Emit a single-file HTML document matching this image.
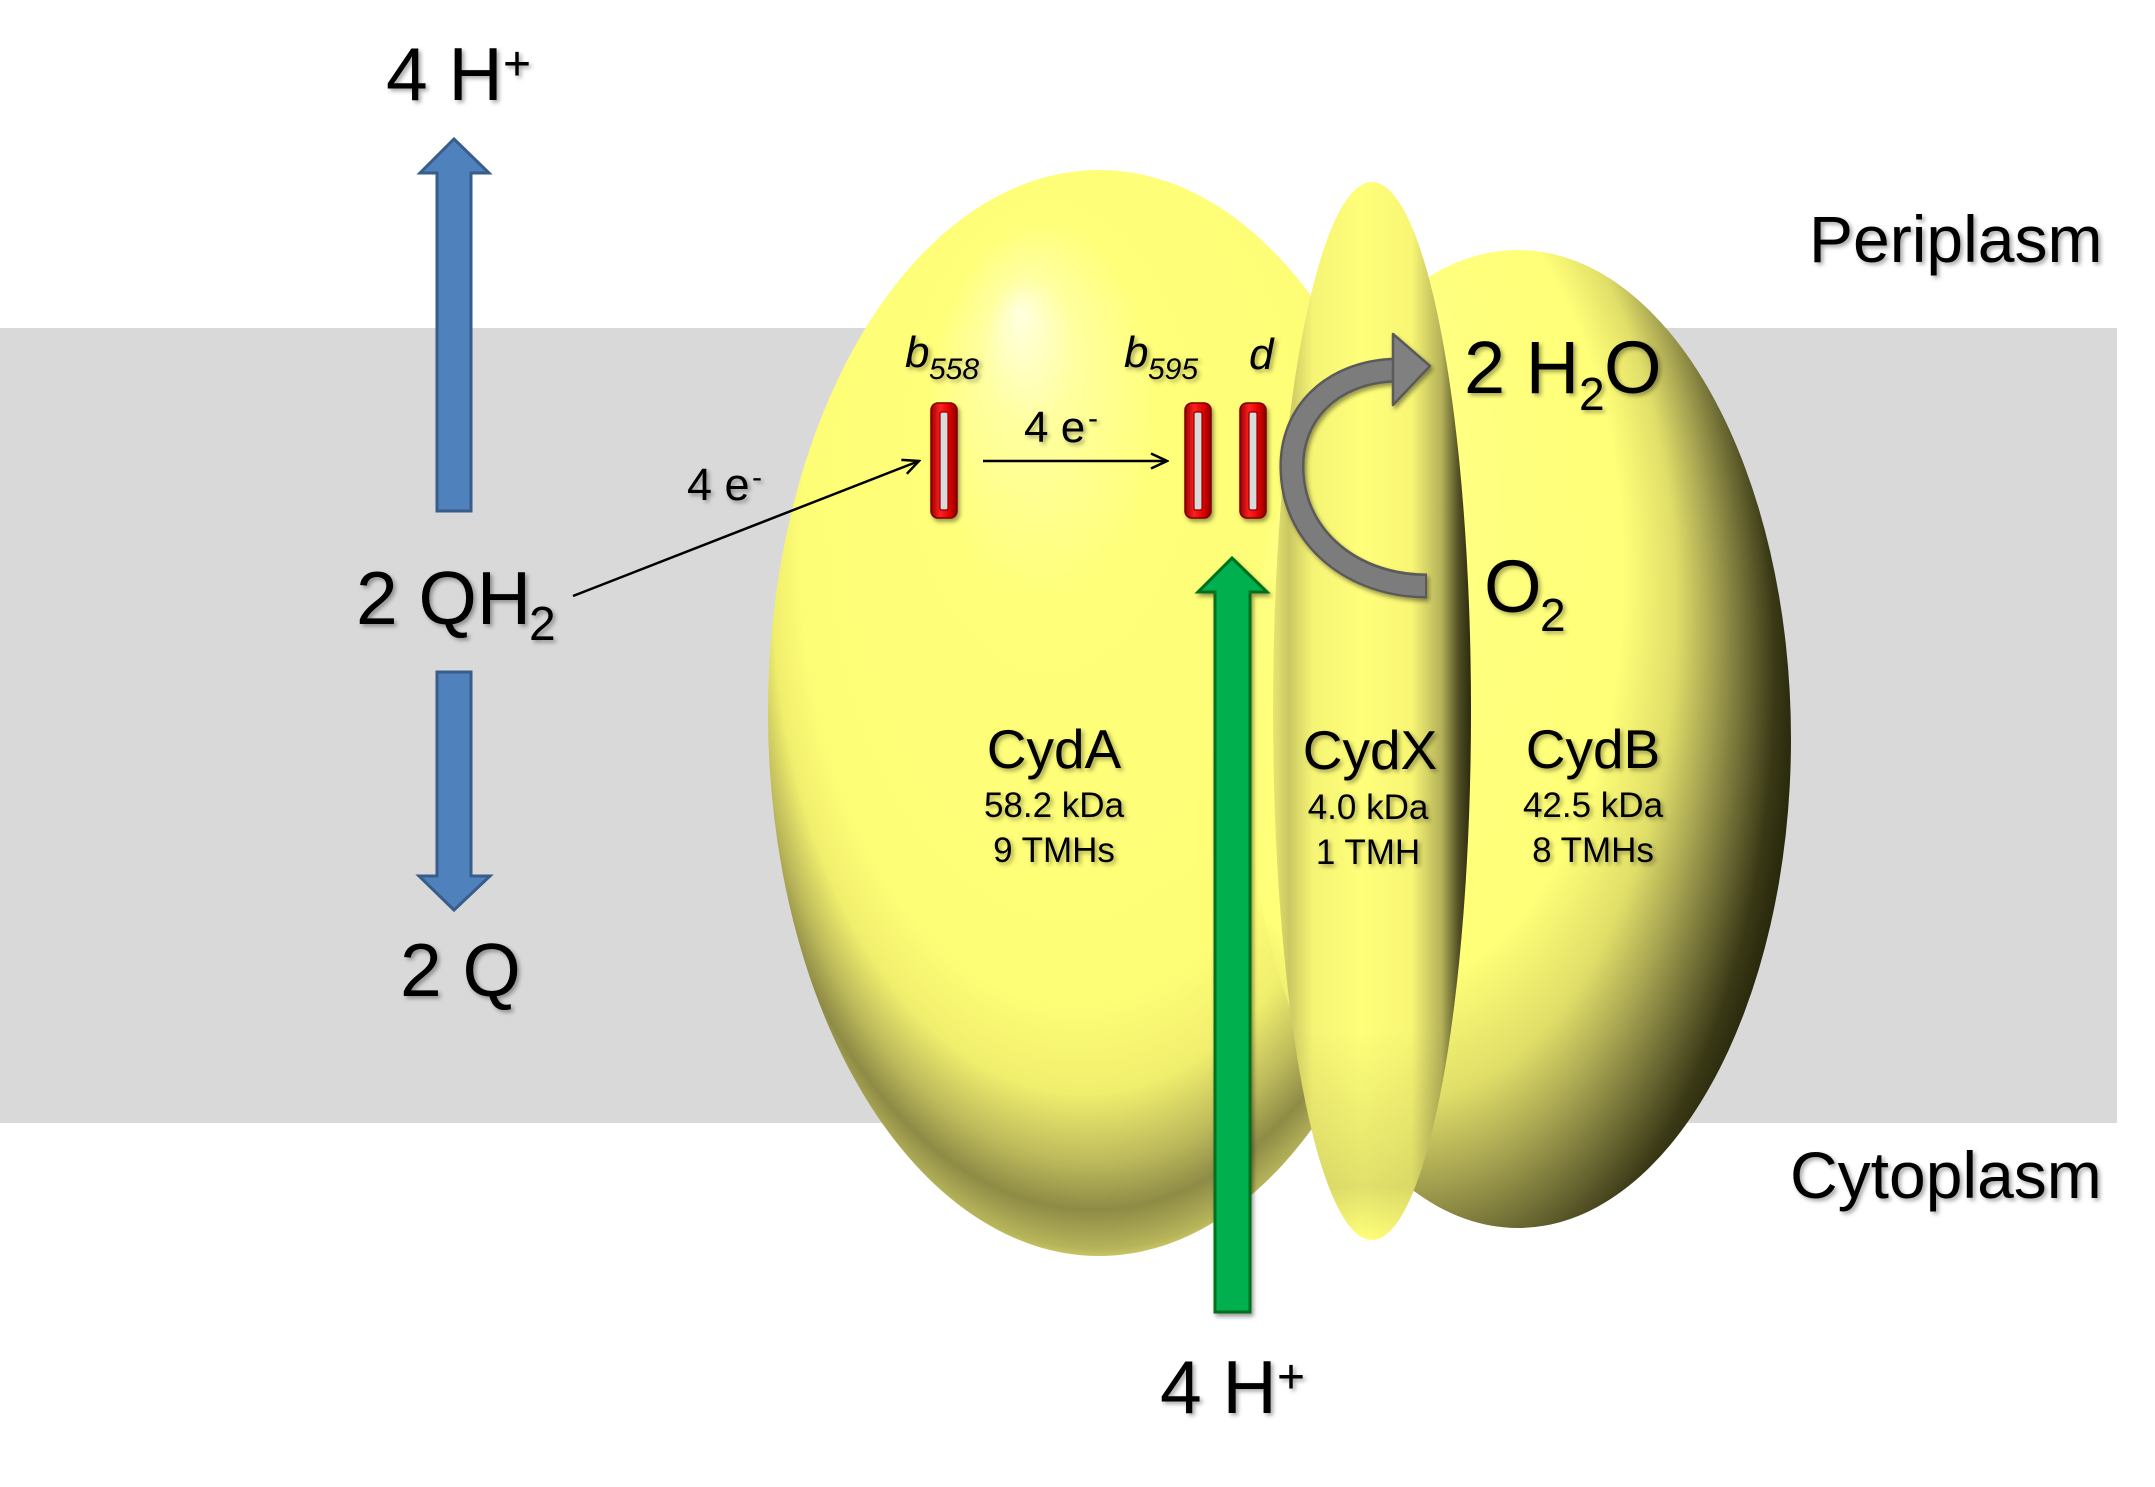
<!DOCTYPE html>
<html>
<head>
<meta charset="utf-8">
<style>
  html,body{margin:0;padding:0;background:#fff;}
  svg{display:block;}
  text{font-family:"Liberation Sans", Arial, sans-serif; fill:#000;}
</style>
</head>
<body>
<svg width="2155" height="1487" viewBox="0 0 2155 1487" xmlns="http://www.w3.org/2000/svg">
  <defs>
    <filter id="ts" x="-10%" y="-20%" width="130%" height="160%">
      <feDropShadow dx="2.5" dy="2.5" stdDeviation="2" flood-color="#000" flood-opacity="0.35"/>
    </filter>
    <filter id="hs" x="-50%" y="-10%" width="200%" height="130%">
      <feDropShadow dx="2" dy="3" stdDeviation="2" flood-color="#000" flood-opacity="0.4"/>
    </filter>
    <radialGradient id="gA" cx="0.5" cy="0.44" r="0.58" fx="0.38" fy="0.13">
      <stop offset="0" stop-color="#FFFFE0"/>
      <stop offset="0.12" stop-color="#FFFFA0"/>
      <stop offset="0.3" stop-color="#FFFF7A"/>
      <stop offset="0.72" stop-color="#FEFD76"/>
      <stop offset="0.81" stop-color="#F0EE6D"/>
      <stop offset="0.88" stop-color="#BDBA5C"/>
      <stop offset="0.93" stop-color="#8E8B46"/>
      <stop offset="0.97" stop-color="#B6B45A"/>
      <stop offset="1" stop-color="#F6F478"/>
    </radialGradient>
    <radialGradient id="gB" cx="0.32" cy="0.45" r="0.7" fx="0.2" fy="0.15">
      <stop offset="0" stop-color="#FFFFD0"/>
      <stop offset="0.15" stop-color="#FFFF84"/>
      <stop offset="0.6" stop-color="#FFFF78"/>
      <stop offset="0.72" stop-color="#E0DE68"/>
      <stop offset="0.8" stop-color="#A8A552"/>
      <stop offset="0.88" stop-color="#6A6832"/>
      <stop offset="0.94" stop-color="#3A3916"/>
      <stop offset="1" stop-color="#222208"/>
    </radialGradient>
    <linearGradient id="gX" x1="0" y1="0" x2="1" y2="0">
      <stop offset="0" stop-color="#E8E670"/>
      <stop offset="0.08" stop-color="#CAC862"/>
      <stop offset="0.2" stop-color="#F6F474"/>
      <stop offset="0.45" stop-color="#FFFF7A"/>
      <stop offset="0.7" stop-color="#F8F674"/>
      <stop offset="0.85" stop-color="#B5B25A"/>
      <stop offset="0.94" stop-color="#4E4C22"/>
      <stop offset="1" stop-color="#2A2A0E"/>
    </linearGradient>
    <linearGradient id="gXv" x1="0" y1="0" x2="0" y2="1">
      <stop offset="0" stop-color="#000" stop-opacity="0"/>
      <stop offset="0.8" stop-color="#000" stop-opacity="0"/>
      <stop offset="0.95" stop-color="#000" stop-opacity="0.12"/>
      <stop offset="1" stop-color="#000" stop-opacity="0"/>
    </linearGradient>
    <linearGradient id="gH" x1="0" y1="0" x2="1" y2="0">
      <stop offset="0" stop-color="#9A0000"/>
      <stop offset="0.35" stop-color="#FF2020"/>
      <stop offset="0.7" stop-color="#E00000"/>
      <stop offset="1" stop-color="#8A0000"/>
    </linearGradient>
    <marker id="ah" viewBox="0 0 20 20" refX="18" refY="10" markerWidth="20" markerHeight="20" markerUnits="userSpaceOnUse" orient="auto">
      <path d="M2,2.5 L18,10 L2,17.5" fill="none" stroke="#000" stroke-width="2.5"/>
    </marker>
  </defs>

  <!-- background -->
  <rect x="0" y="0" width="2155" height="1487" fill="#fff"/>
  <!-- membrane -->
  <rect x="0" y="328" width="2117" height="795" fill="#D9D9D9"/>

  <!-- blue arrows -->
  <polygon points="437,511 437,173 420,173 454,139 489,173 471,173 471,511" fill="#4F81BD" stroke="#385D8A" stroke-width="3"/>
  <polygon points="437,672 437,876 419,876 454,910 490,876 471,876 471,672" fill="#4F81BD" stroke="#385D8A" stroke-width="3"/>

  <!-- proteins -->
  <ellipse cx="1099" cy="713" rx="331" ry="543" fill="url(#gA)"/>
  <ellipse cx="1518" cy="739" rx="273" ry="489" fill="url(#gB)"/>
  <ellipse cx="1372" cy="711" rx="99" ry="529" fill="url(#gX)"/>
  <ellipse cx="1372" cy="711" rx="99" ry="529" fill="url(#gXv)"/>

  <!-- hemes -->
  <g filter="url(#hs)">
    <rect x="931" y="403" width="26" height="115" rx="7" fill="url(#gH)" stroke="#7A0000" stroke-width="1.5"/>
    <rect x="940" y="412" width="8" height="98" rx="2" fill="#DADADA" stroke="#8A0000" stroke-width="1.2"/>
    <rect x="1185" y="403" width="26" height="115" rx="7" fill="url(#gH)" stroke="#7A0000" stroke-width="1.5"/>
    <rect x="1194" y="412" width="8" height="98" rx="2" fill="#DADADA" stroke="#8A0000" stroke-width="1.2"/>
    <rect x="1240" y="403" width="26" height="115" rx="7" fill="url(#gH)" stroke="#7A0000" stroke-width="1.5"/>
    <rect x="1249" y="412" width="8" height="98" rx="2" fill="#DADADA" stroke="#8A0000" stroke-width="1.2"/>
  </g>

  <!-- electron arrows -->
  <line x1="573" y1="596" x2="919" y2="461" stroke="#000" stroke-width="2.5" marker-end="url(#ah)"/>
  <line x1="983" y1="461" x2="1167" y2="461" stroke="#000" stroke-width="2.5" marker-end="url(#ah)"/>

  <!-- gray curved arrow -->
  <g filter="url(#hs)">
    <path d="M 1396 370 C 1330 372, 1290 415, 1292 470 C 1294 540, 1355 586, 1427 586" fill="none" stroke="#5A5A5A" stroke-width="25"/>
    <path d="M 1396 370 C 1330 372, 1290 415, 1292 470 C 1294 540, 1355 586, 1425 586" fill="none" stroke="#7C7C7C" stroke-width="20"/>
    <polygon points="1393,334 1430,366 1393,405" fill="#808080" stroke="#5A5A5A" stroke-width="2.5" stroke-linejoin="round"/>
  </g>

  <!-- green arrow -->
  <g filter="url(#hs)">
    <polygon points="1215,1312 1215,592 1198,592 1232,558 1267,592 1250,592 1250,1312" fill="#00B050" stroke="#00701F" stroke-width="3"/>
  </g>

  <!-- labels -->
  <g filter="url(#ts)">
    <text x="386" y="100" font-size="75">4 H</text>
    <text x="503" y="80" font-size="48">+</text>

    <text x="356" y="624" font-size="75">2 QH</text>
    <text x="529" y="640" font-size="48">2</text>

    <text x="400" y="996" font-size="75">2 Q</text>

    <text x="1160" y="1413" font-size="75">4 H</text>
    <text x="1277" y="1393" font-size="48">+</text>

    <text x="687" y="500" font-size="45">4 e</text>
    <text x="752" y="487" font-size="30">-</text>

    <text x="1024" y="442" font-size="44">4 e</text>
    <text x="1088" y="428" font-size="30">-</text>

    <text x="905" y="367" font-size="44" font-style="italic">b</text>
    <text x="929" y="379" font-size="30" font-style="italic">558</text>
    <text x="1124" y="367" font-size="44" font-style="italic">b</text>
    <text x="1148" y="379" font-size="30" font-style="italic">595</text>
    <text x="1249" y="369" font-size="44" font-style="italic">d</text>

    <text x="1464" y="393" font-size="74">2 H</text>
    <text x="1579" y="410" font-size="46">2</text>
    <text x="1604" y="393" font-size="74">O</text>

    <text x="1484" y="612" font-size="74">O</text>
    <text x="1540" y="631" font-size="46">2</text>

    <text x="1809" y="262" font-size="66">Periplasm</text>
    <text x="1790" y="1198" font-size="66">Cytoplasm</text>

    <text x="1054" y="768" font-size="55" text-anchor="middle">CydA</text>
    <text x="1054" y="817" font-size="35" text-anchor="middle">58.2 kDa</text>
    <text x="1054" y="862" font-size="35" text-anchor="middle">9 TMHs</text>

    <text x="1370" y="769" font-size="55" text-anchor="middle">CydX</text>
    <text x="1368" y="819" font-size="35" text-anchor="middle">4.0 kDa</text>
    <text x="1368" y="864" font-size="35" text-anchor="middle">1 TMH</text>

    <text x="1593" y="768" font-size="55" text-anchor="middle">CydB</text>
    <text x="1593" y="817" font-size="35" text-anchor="middle">42.5 kDa</text>
    <text x="1593" y="862" font-size="35" text-anchor="middle">8 TMHs</text>
  </g>
</svg>
</body>
</html>
